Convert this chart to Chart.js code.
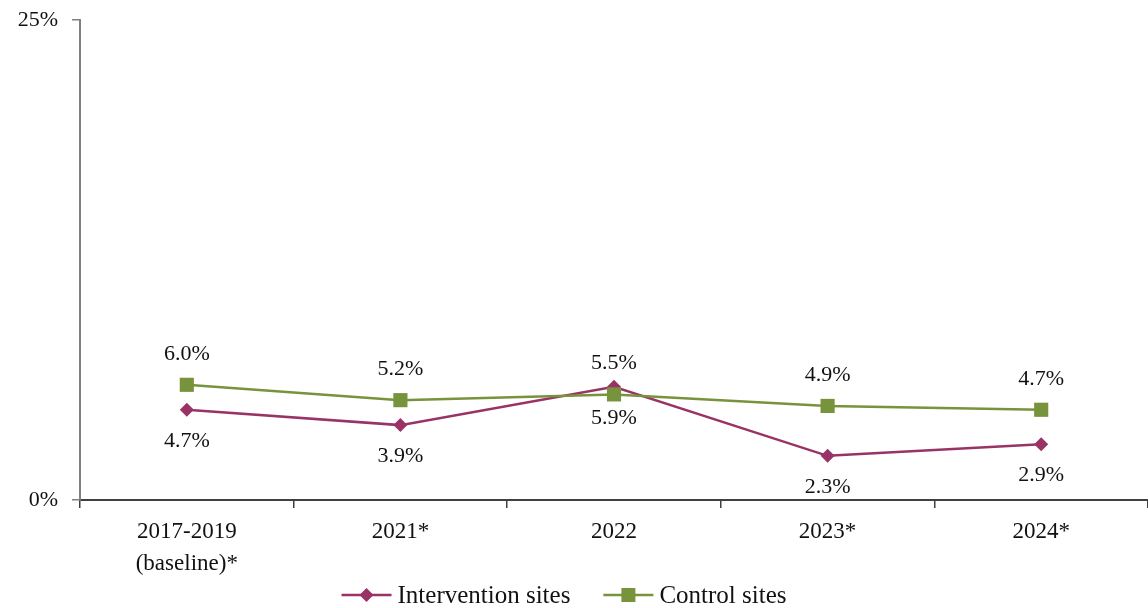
<!DOCTYPE html>
<html>
<head>
<meta charset="utf-8">
<script src="https://cdn.jsdelivr.net/npm/chart.js@4.4.0/dist/chart.umd.min.js"></script>
<style>
html,body{margin:0;padding:0;background:#fff;overflow:hidden;}
#wrap{width:1148px;height:608px;position:relative;}
</style>
</head>
<body>
<div id="wrap"><canvas id="c" width="1148" height="608"></canvas></div>
<script>
const categories = [["2017-2019","(baseline)*"], "2021*", "2022", "2023*", "2024*"];
const interventionValues = [4.7, 3.9, 5.9, 2.3, 2.9];
const controlValues = [6.0, 5.2, 5.5, 4.9, 4.7];
const yTicks = [0, 25];

const FONT = "'Liberation Serif', 'Times New Roman', serif";
const MAROON = '#993366';
const GREEN = '#77933C';
const TEXT = '#111';

const labelPlugin = {
  id: 'pointLabels',
  afterDatasetsDraw(chart) {
    const ctx = chart.ctx;
    ctx.save();
    ctx.font = '22px ' + FONT;
    ctx.fillStyle = TEXT;
    ctx.textAlign = 'center';
    ctx.textBaseline = 'middle';
    chart.data.datasets.forEach((ds, di) => {
      const meta = chart.getDatasetMeta(di);
      meta.data.forEach((pt, i) => {
        const dy = ds.labelPos === 'above' ? -31 : 31;
        ctx.fillText(ds.data[i].toFixed(1) + '%', pt.x, pt.y + dy);
      });
    });
    ctx.restore();
  }
};

const legendPlugin = {
  id: 'lineLegend',
  afterDraw(chart) {
    const ctx = chart.ctx;
    ctx.save();
    ctx.font = '25px ' + FONT;
    ctx.textBaseline = 'middle';
    ctx.textAlign = 'left';
    const iconW = 50, textGap = 6, itemGap = 33;
    const items = chart.data.datasets.map(ds => ({ ds, w: ctx.measureText(ds.label).width }));
    const total = items.reduce((s, it) => s + iconW + textGap + it.w, 0) + itemGap * (items.length - 1);
    let x = 564 - total / 2;
    const y = 595;
    items.forEach(it => {
      const ds = it.ds;
      ctx.strokeStyle = ds.borderColor;
      ctx.lineWidth = 2.5;
      ctx.beginPath(); ctx.moveTo(x, y); ctx.lineTo(x + iconW, y); ctx.stroke();
      ctx.fillStyle = ds.borderColor;
      const cx = x + iconW / 2;
      ctx.beginPath();
      if (ds.pointStyle === 'rectRot') {
        ctx.moveTo(cx, y - 7); ctx.lineTo(cx + 7, y); ctx.lineTo(cx, y + 7); ctx.lineTo(cx - 7, y); ctx.closePath();
      } else {
        ctx.rect(cx - 7, y - 7, 14, 14);
      }
      ctx.fill();
      ctx.fillStyle = TEXT;
      ctx.fillText(ds.label, x + iconW + textGap, y + 1);
      x += iconW + textGap + it.w + itemGap;
    });
    ctx.restore();
  }
};

new Chart(document.getElementById('c'), {
  type: 'line',
  data: {
    labels: categories,
    datasets: [
      {
        label: 'Intervention sites',
        data: interventionValues,
        borderColor: MAROON,
        backgroundColor: MAROON,
        borderWidth: 2.5,
        pointStyle: 'rectRot',
        pointRadius: 7,
        pointHoverRadius: 7,
        pointBorderWidth: 0,
        tension: 0,
        order: 1,
        labelPos: 'below'
      },
      {
        label: 'Control sites',
        data: controlValues,
        borderColor: GREEN,
        backgroundColor: GREEN,
        borderWidth: 2.5,
        pointStyle: 'rect',
        pointRadius: 10,
        pointHoverRadius: 10,
        pointBorderWidth: 0,
        tension: 0,
        order: 0,
        labelPos: 'above'
      }
    ]
  },
  options: {
    responsive: false,
    animation: false,
    devicePixelRatio: 1,
    layout: { autoPadding: false, padding: { top: 20, right: -3, bottom: 28, left: 0 } },
    plugins: {
      tooltip: { enabled: false },
      legend: { display: false }
    },
    scales: {
      x: {
        type: 'category',
        offset: true,
        grid: { display: true, offset: true, drawOnChartArea: false, drawTicks: true, tickLength: 8, color: '#404040', lineWidth: 1.5 },
        border: { display: true, color: '#404040', width: 2 },
        ticks: { font: { family: FONT, size: 23, lineHeight: 1.4 }, color: TEXT, padding: 8, maxRotation: 0 },
        afterFit(scale) { scale.height = 80; scale.paddingLeft = 0; scale.paddingRight = 0; }
      },
      y: {
        min: 0, max: 25,
        afterBuildTicks(scale) { scale.ticks = yTicks.map(v => ({ value: v })); },
        grid: { display: true, drawOnChartArea: false, drawTicks: true, tickLength: 8, color: '#808080', lineWidth: 1.5 },
        border: { display: true, color: '#808080', width: 2 },
        ticks: { font: { family: FONT, size: 22 }, color: TEXT, padding: 14, callback: v => v + '%' },
        afterFit(scale) { scale.width = 80; scale.paddingTop = 0; scale.paddingBottom = 0; }
      }
    }
  },
  plugins: [labelPlugin, legendPlugin]
});
</script>
</body>
</html>
